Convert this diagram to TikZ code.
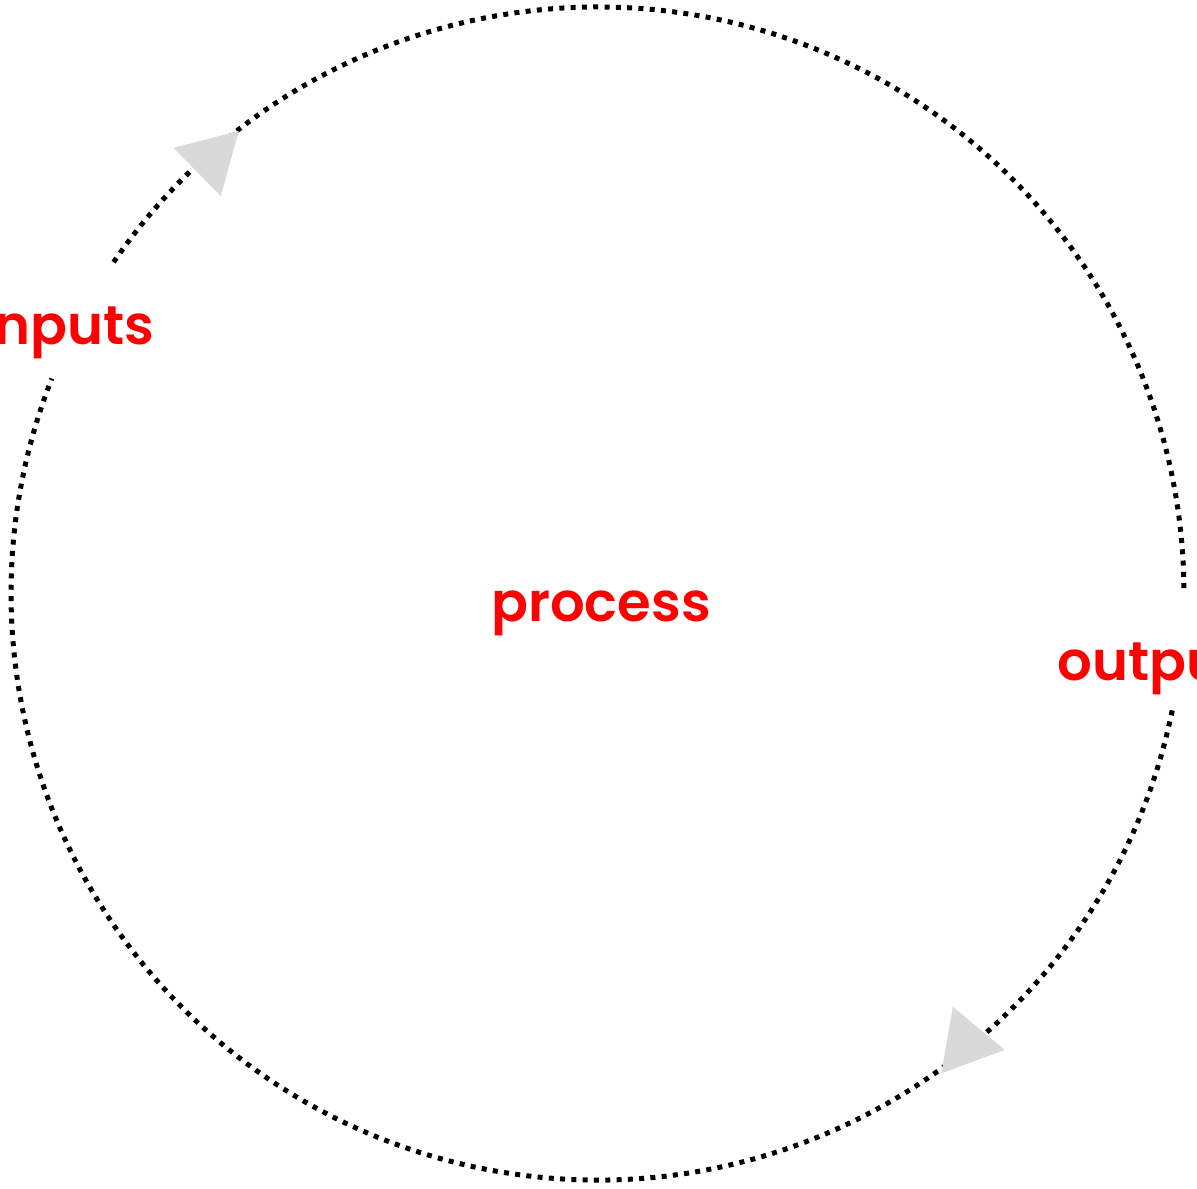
\documentclass[tikz,border=0pt]{standalone}
\usepackage{fontspec}
\setmainfont{Poppins}
\newfontfamily\wordfont{Poppins SemiBold}
\usetikzlibrary{shapes.geometric}

\definecolor{tipgray}{HTML}{D9D9D9}
\definecolor{wordred}{HTML}{FF0000}

\tikzset{
  flow/.style={line width=0.1cm, dash pattern=on 0.1cm off 0.126cm},
  tip/.style={regular polygon, regular polygon sides=3, fill=tipgray,
    inner sep=0pt, outer sep=0pt, minimum size=1.56cm},
  word/.style={text=wordred, font=\fontsize{31}{36}\wordfont,
    inner sep=0pt}
}

\begin{document}
\begin{tikzpicture}[x=0.02cm, y=0.02cm]
  \clip (0,0) rectangle (1197,1188);

  \begin{scope}[shift={(597.5,594.5)}]
    % ends of the two arcs, next to the words
    \coordinate (in-top) at (145.6:586.5);
    \coordinate (out-top) at (0.3:586.5);
    \coordinate (out-bot) at (-11.5:586.5);
    \coordinate (in-bot) at (158.5:586.5);

    \draw[flow] (in-top) arc[start angle=145.6, end angle=0.3, radius=586.5];
    \draw[flow] (out-bot) arc[start angle=-11.5, end angle=-201.5, radius=586.5];
  \end{scope}

  \node[tip, rotate=-45.5] (tip-in) at (211,1029.7) {};
  \node[tip, rotate=20.2] (tip-out) at (966.3,144.7) {};

  \node[word, anchor=base] (process) at (601,566) {process};
  \node[word, anchor=base east] (inputs) at (155,843) {inputs};
  \node[word, anchor=base west] (outputs) at (1057,508) {outputs};
\end{tikzpicture}
\end{document}
